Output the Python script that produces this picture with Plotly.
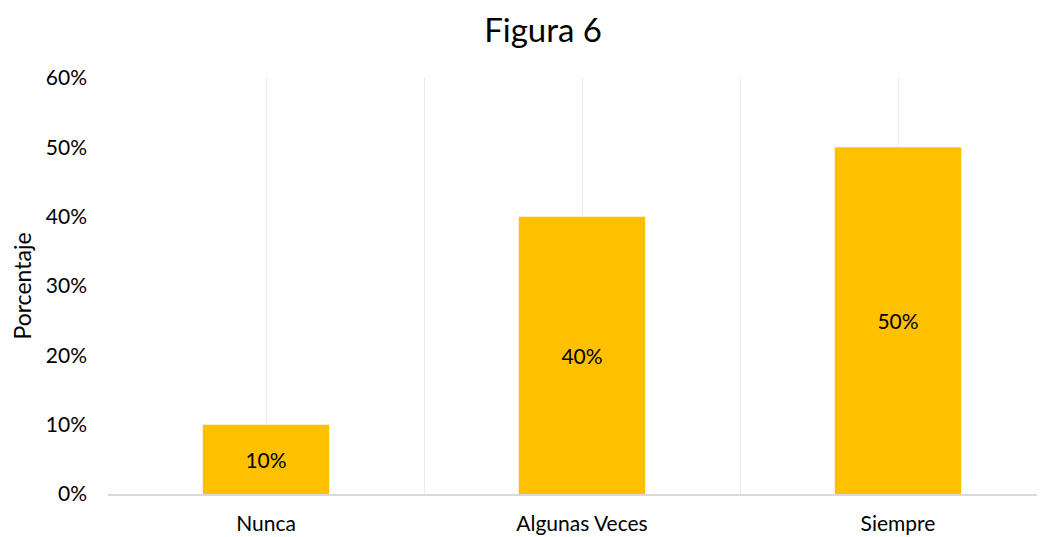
import plotly.graph_objects as go

categories = ["Nunca", "Algunas Veces", "Siempre"]
values = [0.10, 0.40, 0.50]
y_ticks = [0, 0.1, 0.2, 0.3, 0.4, 0.5, 0.6]

FONT = "Lato, 'Open Sans', sans-serif"
x_pos = list(range(len(categories)))

fig = go.Figure()
fig.add_trace(
    go.Bar(
        x=x_pos,
        y=values,
        width=0.4,
        marker=dict(color="#FFC000", line=dict(width=0)),
        text=[f"{v:.0%}" for v in values],
        textposition="inside",
        insidetextanchor="middle",
        textfont=dict(family=FONT, size=21, color="#000000"),
        showlegend=False,
    )
)

# page body adds an 8px offset, so margins are shifted to compensate
fig.update_layout(
    width=1045,
    height=537,
    plot_bgcolor="white",
    paper_bgcolor="white",
    margin=dict(l=100, r=0, t=70, b=51),
    title=dict(
        text="Figura 6",
        x=0.512, xanchor="center",
        y=0.959, yanchor="middle",
        font=dict(family=FONT, size=33, color="#000000"),
    ),
    font=dict(family=FONT, size=21, color="#000000"),
)

fig.update_xaxes(
    range=[-0.5, -0.5 + 945 / 316],
    tickvals=x_pos,
    ticktext=categories,
    showgrid=True,
    gridcolor="#ececec",
    gridwidth=1,
    minor=dict(tickvals=[-0.5, 0.5, 1.5], showgrid=True, gridcolor="#ececec", gridwidth=1),
    showline=True,
    linecolor="#d9d9d9",
    linewidth=1.5,
    ticks="",
    zeroline=False,
    ticklabelstandoff=10,
    tickfont=dict(family=FONT, size=21),
)

fig.update_yaxes(
    range=[0, 0.6],
    tickvals=y_ticks,
    tickformat=".0%",
    showgrid=False,
    zeroline=False,
    showline=False,
    ticks="",
    ticklabelstandoff=20,
    title=dict(text="Porcentaje", font=dict(family=FONT, size=23), standoff=8),
    tickfont=dict(family=FONT, size=21),
)

fig.write_html("out.html")
